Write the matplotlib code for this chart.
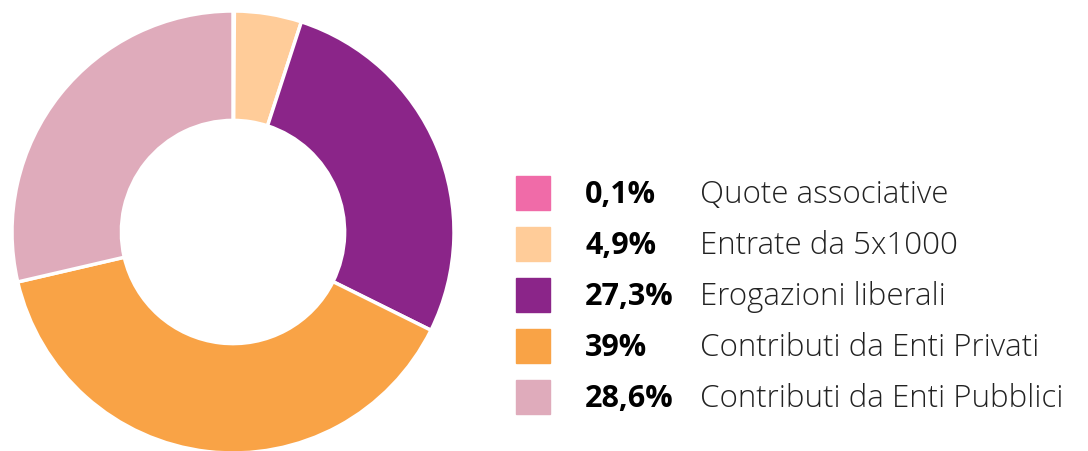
import matplotlib.pyplot as plt
from matplotlib.patches import Rectangle

labels = ["Quote associative", "Entrate da 5x1000", "Erogazioni liberali",
          "Contributi da Enti Privati", "Contributi da Enti Pubblici"]
pct_text = ["0,1%", "4,9%", "27,3%", "39%", "28,6%"]
values = [0.1, 4.9, 27.3, 39.0, 28.6]
colors = ["#F06BA8", "#FFCC99", "#8B2589", "#F9A346", "#DFABBB"]

W, H = 1088, 451
fig = plt.figure(figsize=(W / 100, H / 100), dpi=100)

# donut
cx, cy, r = 233, 232, 221
ax = fig.add_axes([(cx - r) / W, (H - cy - r) / H, 2 * r / W, 2 * r / H])
ax.pie(values, colors=colors, startangle=90, counterclock=False, radius=1,
       wedgeprops=dict(width=0.495, edgecolor="white", linewidth=2.5))
ax.set_xlim(-1, 1)
ax.set_ylim(-1, 1)
ax.set_aspect("equal")
ax.axis("off")

# legend, drawn in pixel coords
lax = fig.add_axes([0, 0, 1, 1])
lax.set_xlim(0, W)
lax.set_ylim(H, 0)
lax.axis("off")
font = "Open Sans"
for i, (lab, p, c) in enumerate(zip(labels, pct_text, colors)):
    y = 193 + i * 51
    lax.add_patch(Rectangle((516, y - 17), 34, 34, color=c))
    lax.text(585, y + 2, p, fontsize=22, fontweight="bold", family=font,
             va="center", ha="left", color="black")
    lax.text(700, y + 2, lab, fontsize=22.5, fontweight="light", family=font,
             va="center", ha="left", color="#222222")

fig.savefig("out.png", dpi=100)
